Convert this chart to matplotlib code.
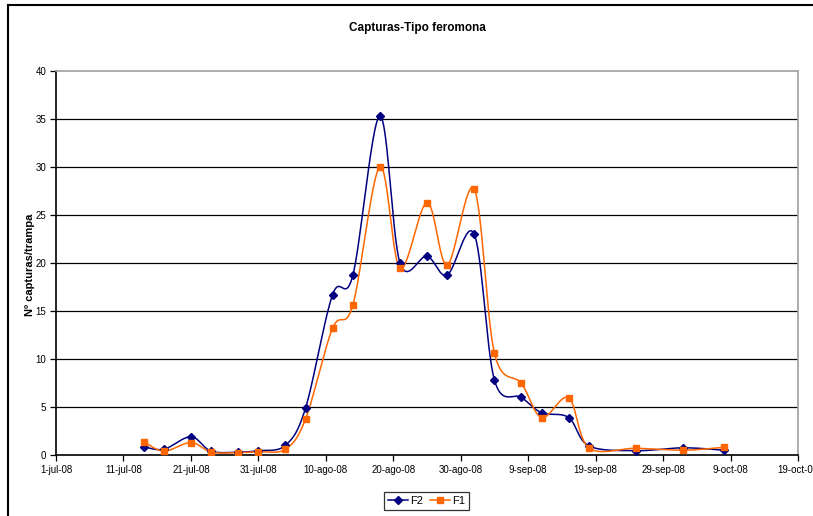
import datetime as dt
import numpy as np
import matplotlib
matplotlib.use('Agg')
import matplotlib.pyplot as plt
import matplotlib.dates as mdates

# fechas de muestreo (2008)
fechas = ['2008-07-14', '2008-07-17', '2008-07-21', '2008-07-24', '2008-07-28',
          '2008-07-31', '2008-08-04', '2008-08-07', '2008-08-11', '2008-08-14',
          '2008-08-18', '2008-08-21', '2008-08-25', '2008-08-28', '2008-09-01',
          '2008-09-04', '2008-09-08', '2008-09-11', '2008-09-15', '2008-09-18',
          '2008-09-25', '2008-10-02', '2008-10-08']
f2 = [0.85, 0.6, 1.9, 0.4, 0.3, 0.45, 1.0, 4.9, 16.7, 18.7, 35.3, 20.0,
      20.7, 18.75, 23.0, 7.8, 6.0, 4.4, 3.9, 0.95, 0.45, 0.75, 0.5]
f1 = [1.4, 0.4, 1.3, 0.3, 0.25, 0.35, 0.6, 3.75, 13.2, 15.6, 30.0, 19.45,
      26.3, 19.8, 27.7, 10.6, 7.45, 3.9, 5.95, 0.75, 0.7, 0.5, 0.8]

tick_dates = ['2008-07-01', '2008-07-11', '2008-07-21', '2008-07-31', '2008-08-10',
              '2008-08-20', '2008-08-30', '2008-09-09', '2008-09-19', '2008-09-29',
              '2008-10-09', '2008-10-19']
tick_labels = ['1-jul-08', '11-jul-08', '21-jul-08', '31-jul-08', '10-ago-08',
               '20-ago-08', '30-ago-08', '9-sep-08', '19-sep-08', '29-sep-08',
               '9-oct-08', '19-oct-08']
y_ticks = [0, 5, 10, 15, 20, 25, 30, 35, 40]


def to_num(lst):
    return np.array([mdates.date2num(dt.datetime.strptime(s, '%Y-%m-%d')) for s in lst])


def smooth(x, y, n=30):
    # curva suavizada tipo Excel (bezier con tangentes catmull-rom)
    x = np.asarray(x, float)
    y = np.asarray(y, float)
    px = np.concatenate([[x[0]], x, [x[-1]]])
    py = np.concatenate([[y[0]], y, [y[-1]]])
    t = np.linspace(0, 1, n)
    xs, ys = [], []
    for i in range(1, len(px) - 2):
        p0 = np.array([px[i], py[i]])
        p3 = np.array([px[i + 1], py[i + 1]])
        c1 = p0 + (np.array([px[i + 1], py[i + 1]]) - np.array([px[i - 1], py[i - 1]])) / 6.0
        c2 = p3 - (np.array([px[i + 2], py[i + 2]]) - np.array([px[i], py[i]])) / 6.0
        b = ((1 - t) ** 3)[:, None] * p0 + (3 * (1 - t) ** 2 * t)[:, None] * c1 \
            + (3 * (1 - t) * t ** 2)[:, None] * c2 + (t ** 3)[:, None] * p3
        xs.extend(b[:, 0])
        ys.extend(b[:, 1])
    return np.array(xs), np.array(ys)


plt.rcParams['font.family'] = ['Liberation Sans', 'DejaVu Sans']

fig = plt.figure(figsize=(8.13, 5.16), dpi=100)
ax = fig.add_axes([56 / 813, 61 / 516, 742 / 813, 384 / 516])

x = to_num(fechas)
xt = to_num(tick_dates)

for ys, col, mk, ms, lab in [(f2, '#000080', 'D', 4, 'F2'), (f1, '#FF6600', 's', 4.5, 'F1')]:
    sx, sy = smooth(x, ys)
    ax.plot(sx, sy, color=col, lw=1.1, zorder=3)
    ax.plot(x, ys, ls='none', marker=mk, ms=ms, color=col, zorder=4)

# leyenda con lineas+marcador
h1, = ax.plot([], [], color='#000080', lw=1.1, marker='D', ms=4)
h2, = ax.plot([], [], color='#FF6600', lw=1.1, marker='s', ms=4.5)
leg = fig.legend([h1, h2], ['F2', 'F1'], loc='center', ncol=2,
                 bbox_to_anchor=(426.5 / 813, 1 - 501 / 516), fontsize=8,
                 frameon=True, fancybox=False, edgecolor='black',
                 handlelength=1.8, handletextpad=0.2, columnspacing=0.6,
                 borderpad=0.35, borderaxespad=0)
leg.get_frame().set_linewidth(0.9)

ax.set_xlim(xt[0], xt[-1])
ax.set_ylim(0, 40)
ax.set_xticks(xt)
ax.set_xticklabels(tick_labels, fontsize=7)
ax.set_yticks(y_ticks)
ax.set_yticklabels([str(v) for v in y_ticks], fontsize=7)
ax.tick_params(direction='out', length=4, width=0.9, pad=3)

for v in y_ticks[1:-1]:
    ax.axhline(v, color='black', lw=0.9, zorder=1)

ax.spines['left'].set_color('black')
ax.spines['bottom'].set_color('black')
ax.spines['top'].set_color('#A0A0A0')
ax.spines['right'].set_color('#A0A0A0')
for s in ax.spines.values():
    s.set_linewidth(1.2)

fig.text(417 / 813, 1 - 28 / 516, 'Capturas-Tipo feromona', ha='center', va='center',
         fontsize=8.5, fontweight='bold')
fig.text(30 / 813, 1 - 265 / 516, 'Nº capturas/trampa', ha='center', va='center',
         rotation=90, fontsize=8, fontweight='bold')

# marco exterior del grafico (solo visible arriba e izquierda)
fig.add_artist(plt.Line2D([8 / 813, 8 / 813], [0, 1 - 5 / 516], transform=fig.transFigure,
                          color='black', lw=1.5))
fig.add_artist(plt.Line2D([8 / 813, 1], [1 - 5 / 516, 1 - 5 / 516], transform=fig.transFigure,
                          color='black', lw=1.5))

fig.savefig('out.png', dpi=100)
